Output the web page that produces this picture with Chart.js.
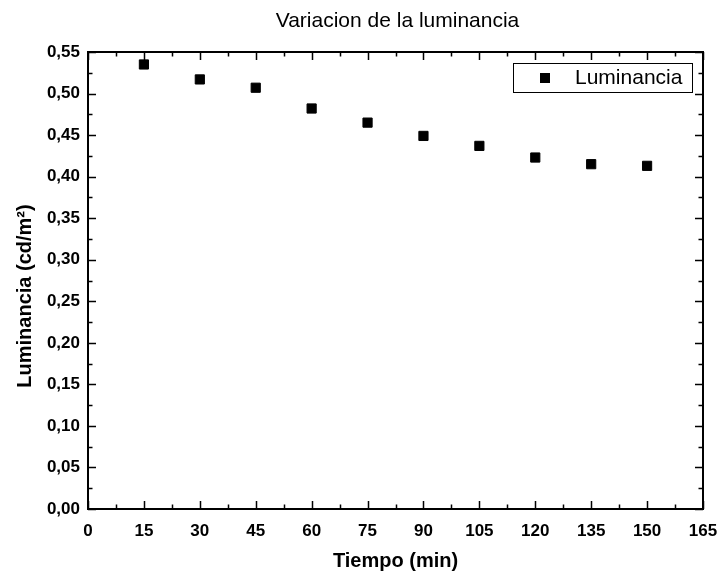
<!DOCTYPE html>
<html>
<head>
<meta charset="utf-8">
<script src="https://cdn.jsdelivr.net/npm/chart.js@4/dist/chart.umd.min.js"></script>
<style>
    html, body { margin: 0; padding: 0; background: #fff; }
    #wrap { width: 717px; height: 575px; }
</style>
</head>
<body>
<div id="wrap"><canvas id="chart" width="717" height="575"></canvas></div>
<script>
// data
const tiempo = [15, 30, 45, 60, 75, 90, 105, 120, 135, 150];
const luminancia = [0.535, 0.517, 0.507, 0.482, 0.465, 0.449, 0.437, 0.423, 0.415, 0.413];

const xTicks = [0, 15, 30, 45, 60, 75, 90, 105, 120, 135, 150, 165];
const xTickLabels = ['0', '15', '30', '45', '60', '75', '90', '105', '120', '135', '150', '165'];
const yTicks = [0, 0.05, 0.10, 0.15, 0.20, 0.25, 0.30, 0.35, 0.40, 0.45, 0.50, 0.55];
const yTickLabels = ['0,00', '0,05', '0,10', '0,15', '0,20', '0,25', '0,30', '0,35', '0,40', '0,45', '0,50', '0,55'];

const chartTitle = 'Variacion de la luminancia';
const yTitle = 'Luminancia (cd/m²)';

const FONT = '"Liberation Sans", Arial, sans-serif';

// frame with inward major/minor ticks on all four sides (Origin style)
const frameTicks = {
    id: 'frameTicks',
    afterDatasetsDraw(chart) {
        const ctx = chart.ctx;
        const a = chart.chartArea;
        const xs = chart.scales.x, ys = chart.scales.y;
        const major = 8, minor = 4.5;

        ctx.save();
        ctx.strokeStyle = '#000';
        ctx.lineWidth = 1.5;
        ctx.beginPath();
        const xv = xs.ticks.map(t => t.value);
        for (let i = 0; i < xv.length; i++) {
            const px = Math.round(xs.getPixelForValue(xv[i])) + 0.5;
            ctx.moveTo(px, a.bottom); ctx.lineTo(px, a.bottom - major);
            ctx.moveTo(px, a.top); ctx.lineTo(px, a.top + major);
            if (i < xv.length - 1) {
                const mx = Math.round(xs.getPixelForValue((xv[i] + xv[i + 1]) / 2)) + 0.5;
                ctx.moveTo(mx, a.bottom); ctx.lineTo(mx, a.bottom - minor);
                ctx.moveTo(mx, a.top); ctx.lineTo(mx, a.top + minor);
            }
        }
        const yv = ys.ticks.map(t => t.value);
        for (let i = 0; i < yv.length; i++) {
            const py = Math.round(ys.getPixelForValue(yv[i])) + 0.5;
            ctx.moveTo(a.left, py); ctx.lineTo(a.left + major, py);
            ctx.moveTo(a.right, py); ctx.lineTo(a.right - major, py);
            if (i < yv.length - 1) {
                const my = Math.round(ys.getPixelForValue((yv[i] + yv[i + 1]) / 2)) + 0.5;
                ctx.moveTo(a.left, my); ctx.lineTo(a.left + minor, my);
                ctx.moveTo(a.right, my); ctx.lineTo(a.right - minor, my);
            }
        }
        ctx.stroke();

        ctx.lineWidth = 2;
        ctx.strokeRect(a.left, a.top, a.right - a.left, a.bottom - a.top);
        ctx.restore();
    }
};

// title over the plot and the rotated y-axis title
const titles = {
    id: 'titles',
    afterDraw(chart) {
        const ctx = chart.ctx;
        const a = chart.chartArea;
        ctx.save();
        ctx.fillStyle = '#000';
        ctx.textAlign = 'center';
        ctx.textBaseline = 'middle';
        ctx.font = '21px ' + FONT;
        ctx.fillText(chartTitle, (a.left + a.right) / 2 + 2, 21);

        ctx.translate(25, 296);
        ctx.rotate(-Math.PI / 2);
        ctx.font = 'bold 20px ' + FONT;
        ctx.fillText(yTitle, 0, 0);
        ctx.restore();
    }
};

// legend box in the upper right corner of the plot
const boxLegend = {
    id: 'boxLegend',
    afterDraw(chart) {
        const ctx = chart.ctx;
        const a = chart.chartArea;
        const ds = chart.data.datasets[0];
        const w = 179, h = 29;
        const x0 = a.right - 11 - w, y0 = a.top + 11;

        ctx.save();
        ctx.fillStyle = '#fff';
        ctx.fillRect(x0, y0, w, h);
        ctx.strokeStyle = '#000';
        ctx.lineWidth = 1;
        ctx.strokeRect(x0 + 0.5, y0 + 0.5, w, h);

        ctx.fillStyle = '#000';
        ctx.fillRect(x0 + 27, y0 + 10, 10, 10);

        ctx.font = '21px ' + FONT;
        ctx.textBaseline = 'middle';
        ctx.textAlign = 'left';
        ctx.fillText(ds.label, x0 + 62, y0 + h / 2 + 1);
        ctx.restore();
    }
};

new Chart('chart', {
    type: 'scatter',
    data: {
        datasets: [
            {
                label: 'Luminancia',
                data: tiempo.map((t, i) => ({ x: t, y: luminancia[i] })),
                pointStyle: 'rect',
                pointRadius: 6.5,
                pointHoverRadius: 6.5,
                backgroundColor: '#000',
                borderColor: '#000',
                borderWidth: 1
            }
        ]
    },
    options: {
        responsive: false,
        animation: false,
        layout: {
            padding: { left: 0, right: 0, top: 52, bottom: 0 }
        },
        plugins: {
            legend: { display: false },
            tooltip: { enabled: false },
            title: { display: false }
        },
        scales: {
            x: {
                type: 'linear',
                min: 0,
                max: 165,
                afterBuildTicks: function(scale) {
                    scale.ticks = xTicks.map(v => ({ value: v }));
                },
                afterFit: function(scale) {
                    scale.height = 66;
                    scale.paddingLeft = 0;
                    scale.paddingRight = 14;
                },
                grid: { display: false, drawTicks: false },
                border: { display: false },
                ticks: {
                    padding: 12,
                    color: '#000',
                    maxRotation: 0,
                    autoSkip: false,
                    font: { family: FONT, size: 17, weight: 'bold' },
                    callback: function(value, index) {
                        return xTickLabels[index];
                    }
                },
                title: {
                    display: true,
                    text: 'Tiempo (min)',
                    color: '#000',
                    font: { family: FONT, size: 20, weight: 'bold' },
                    padding: { top: 0, bottom: 2 }
                }
            },
            y: {
                type: 'linear',
                min: 0,
                max: 0.55,
                afterBuildTicks: function(scale) {
                    scale.ticks = yTicks.map(v => ({ value: v }));
                },
                afterFit: function(scale) {
                    scale.width = 88;
                },
                grid: { display: false, drawTicks: false },
                border: { display: false },
                ticks: {
                    padding: 8,
                    color: '#000',
                    autoSkip: false,
                    font: { family: FONT, size: 17, weight: 'bold' },
                    callback: function(value, index) {
                        return yTickLabels[index];
                    }
                },
                title: { display: false }
            }
        }
    },
    plugins: [frameTicks, titles, boxLegend]
});
</script>
</body>
</html>
